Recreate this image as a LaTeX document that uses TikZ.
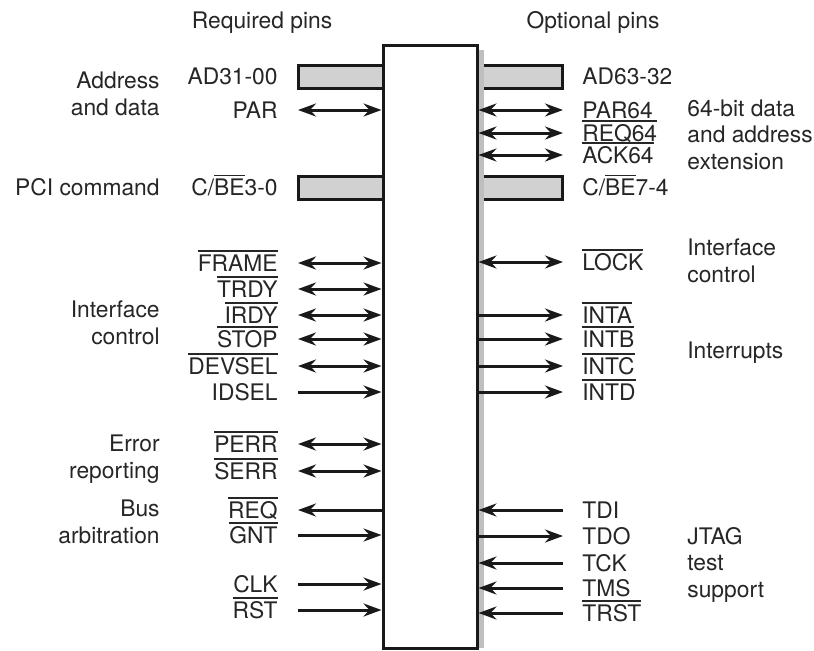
\documentclass[tikz,border=0pt]{standalone}
\usepackage{fontspec}
\setmainfont{TeX Gyre Heros}
\usetikzlibrary{arrows.meta,positioning}

\newcommand{\pinfont}{\fontsize{11.4}{13.25}\selectfont}
\newcommand{\ovl}[1]{\leavevmode\vbox{\hrule height 0.85pt\kern 1.2pt\hbox{#1}}}

\begin{document}
\begin{tikzpicture}[
  x=0.5pt, y=-0.5pt,
  chip/.style={rectangle, draw=black!90, line width=1.5pt, fill=white,
    minimum width=47pt, minimum height=301.5pt, inner sep=0pt},
  bus/.style={rectangle, draw=black!90, line width=1.5pt, fill=black!18,
    minimum width=42.5pt, minimum height=11.5pt, inner sep=0pt},
  pinlab/.style={font=\pinfont, inner sep=0pt, text=black!85},
  grouplab/.style={pinlab, align=right},
  wire/.style={line width=1.5pt, draw=black!90},
  bidir/.style={wire, <->},
  tochip/.style={wire, ->},
  fromchip/.style={wire, <-},
  >={Stealth[length=9pt, width=6.5pt, inset=3pt]}
]
\useasboundingbox (0,0) rectangle (814,650);

% Headings
\node[pinlab, anchor=base] (hreq) at (262,28) {Required pins};
\node[pinlab, anchor=base] (hopt) at (593,28) {Optional pins};

% Buses (drawn below the chip)
\node[bus] (adlo) at (340.5,76.5) {};
\node[bus] (cbelo) at (340.5,187.5) {};
\node[bus] (adhi) at (520,76.5) {};
\node[bus] (cbehi) at (520,187.5) {};

% Chip with its shadow
\fill[black!25] (477,50) rectangle (484,648);
\node[chip] (chip) at (430,346.5) {};

% Bus labels
\node[pinlab, anchor=base east] (adlo-lab) at (278,84.5) {AD31-00};
\node[pinlab, anchor=base east] (cbelo-lab) at (278,195.5) {C/\ovl{BE}3-0};
\node[pinlab, anchor=base west] (adhi-lab) at (582,84.5) {AD63-32};
\node[pinlab, anchor=base west] (cbehi-lab) at (582,195.5) {C/\ovl{BE}7-4};

% Required pins
\foreach \y/\nm/\txt/\sty in {
    110/par/PAR/bidir,
    263/frame/\ovl{FRAME}/bidir,
    289/trdy/\ovl{TRDY}/bidir,
    315/irdy/\ovl{IRDY}/bidir,
    339/stop/\ovl{STOP}/bidir,
    366/devsel/\ovl{DEVSEL}/bidir,
    392/idsel/IDSEL/tochip,
    444/perr/\ovl{PERR}/bidir,
    471/serr/\ovl{SERR}/bidir,
    510/req/\ovl{REQ}/fromchip,
    535/gnt/\ovl{GNT}/tochip,
    584/clk/CLK/tochip,
    610/rst/\ovl{RST}/tochip} {
  \node[pinlab, anchor=base east] (\nm) at (278,\y+8) {\txt};
  \coordinate (\nm-end) at (298,\y);
  \draw[\sty] (\nm-end) -- (\nm-end -| chip.west);
}

% Optional pins
\foreach \y/\nm/\txt/\sty in {
    110/par64/PAR64/bidir,
    133/req64/\ovl{REQ64}/bidir,
    155/ack64/\ovl{ACK64}/bidir,
    262/lock/\ovl{LOCK}/bidir,
    315/inta/\ovl{INTA}/fromchip,
    339/intb/\ovl{INTB}/fromchip,
    366/intc/\ovl{INTC}/fromchip,
    392/intd/\ovl{INTD}/fromchip,
    510/tdi/TDI/tochip,
    536/tdo/TDO/fromchip,
    563/tck/TCK/tochip,
    588/tms/TMS/tochip,
    613/trst/\ovl{TRST}/tochip} {
  \node[pinlab, anchor=base west] (\nm) at (582,\y+8) {\txt};
  \coordinate (\nm-end) at (563,\y);
  \draw[\sty] (\nm-end) -- (\nm-end -| chip.east);
}

% Group labels, left (base = last line)
\node[grouplab, anchor=base east] (g-addr) at (160,115) {Address\\and data};
\node[grouplab, anchor=base east] (g-cmd) at (160,195) {PCI command};
\node[grouplab, anchor=base east] (g-ifc) at (160,344) {Interface\\control};
\node[grouplab, anchor=base east] (g-err) at (160,478) {Error\\reporting};
\node[grouplab, anchor=base east] (g-arb) at (160,543) {Bus\\arbitration};

% Group labels, right
\node[grouplab, align=left, anchor=base west] (g-ext) at (687,169) {64-bit data\\and address\\extension};
\node[grouplab, align=left, anchor=base west] (g-ifc2) at (687,282) {Interface\\control};
\node[grouplab, align=left, anchor=base west] (g-int) at (687,358) {Interrupts};
\node[grouplab, align=left, anchor=base west] (g-jtag) at (687,597) {JTAG\\test\\support};

\end{tikzpicture}
\end{document}
